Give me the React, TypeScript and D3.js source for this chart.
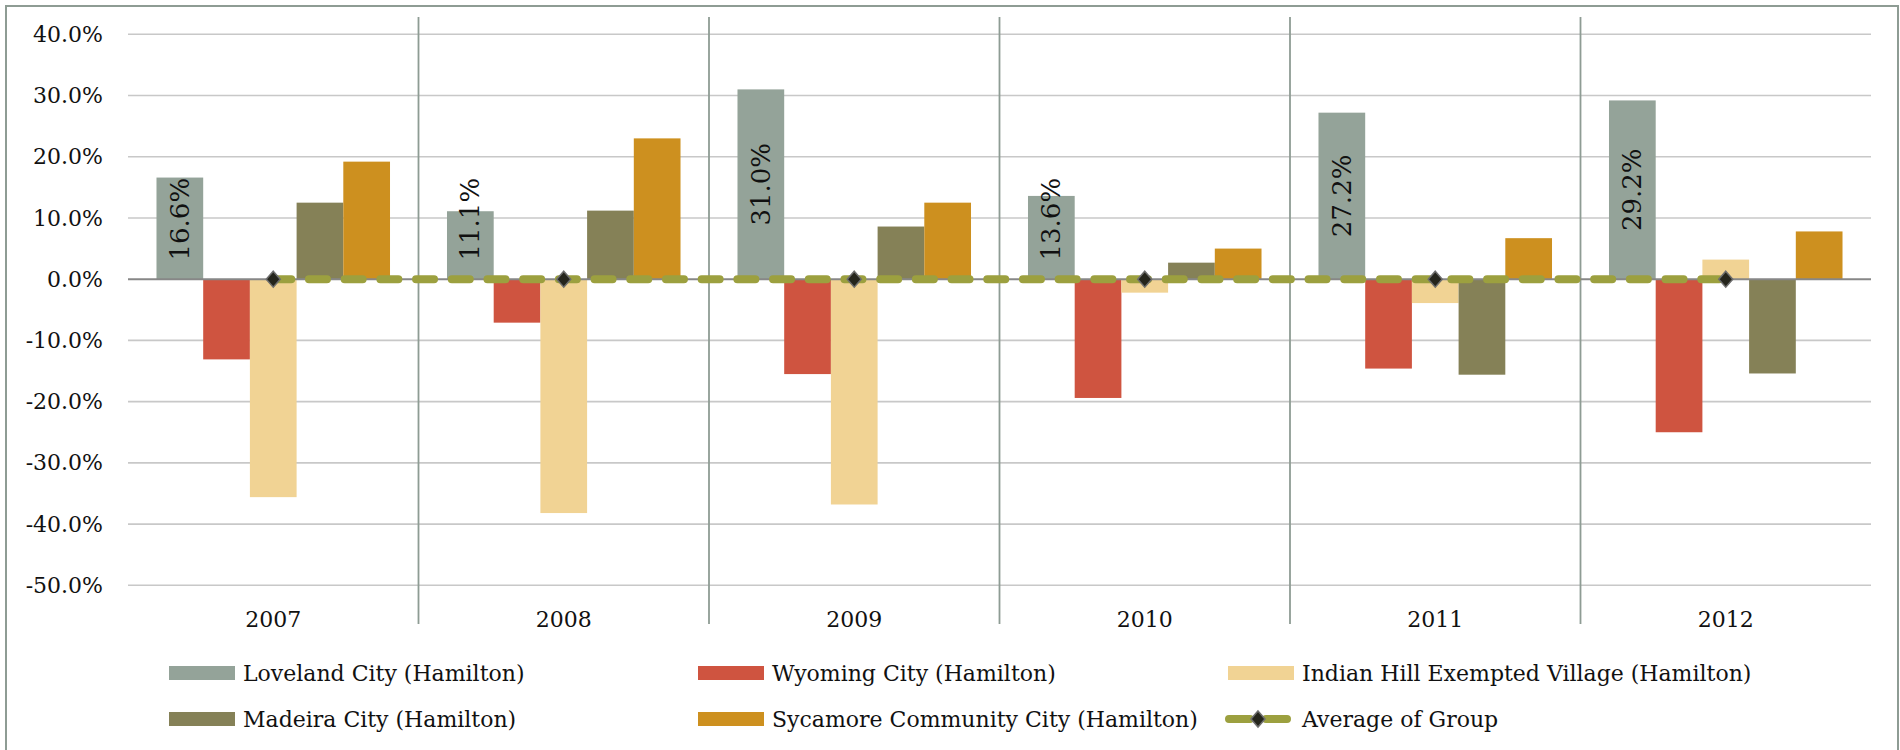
import { useRef, useEffect } from "react";
import { select, scaleBand, scaleLinear, axisLeft, format, line } from "d3";

const years = ["2007", "2008", "2009", "2010", "2011", "2012"];
const seriesNames = [
  "Loveland City (Hamilton)",
  "Wyoming City (Hamilton)",
  "Indian Hill Exempted Village (Hamilton)",
  "Madeira City (Hamilton)",
  "Sycamore Community City (Hamilton)",
];
const seriesColors = ["#94A399", "#CF5440", "#F1D394", "#858157", "#CD901F"];

const loveland = [0.166, 0.111, 0.31, 0.136, 0.272, 0.292];
const wyoming = [-0.131, -0.071, -0.155, -0.194, -0.146, -0.25];
const indianHill = [-0.356, -0.382, -0.368, -0.022, -0.039, 0.032];
const madeira = [0.125, 0.112, 0.086, 0.027, -0.156, -0.154];
const sycamore = [0.192, 0.23, 0.125, 0.05, 0.067, 0.078];
const groupAverage = [0, 0, 0, 0, 0, 0];
const averageName = "Average of Group";

const yTicks = [-0.5, -0.4, -0.3, -0.2, -0.1, 0, 0.1, 0.2, 0.3, 0.4];

const FONT = "'DejaVu Serif', serif";

export default function App() {
  const svgRef = useRef(null);

  useEffect(() => {
    const svg = select(svgRef.current);
    svg.selectAll("*").remove();

    const seriesValues = [loveland, wyoming, indianHill, madeira, sycamore];

    const x = scaleBand().domain(years).range([128, 1871]);
    const xInner = scaleBand()
      .domain(seriesNames)
      .range([0, x.bandwidth()])
      .paddingOuter(0.61);
    const y = scaleLinear().domain([-0.5, 0.4]).range([585.3, 34.3]);

    const pct = (d) => format(".1%")(d).replace("\u2212", "-");

    // chart frame
    svg
      .append("rect")
      .attr("x", 6)
      .attr("y", 6)
      .attr("width", 1892)
      .attr("height", 770)
      .attr("fill", "#fff")
      .attr("stroke", "#8E9C94")
      .attr("stroke-width", 2);

    // horizontal gridlines
    svg
      .append("g")
      .selectAll("line")
      .data(yTicks.filter((t) => t !== 0))
      .join("line")
      .attr("x1", 128)
      .attr("x2", 1871)
      .attr("y1", (d) => y(d))
      .attr("y2", (d) => y(d))
      .attr("stroke", "#C8C8C8")
      .attr("stroke-width", 1.6);

    // value axis labels
    const yAxis = axisLeft(y).tickValues(yTicks).tickSize(0).tickPadding(25).tickFormat(pct);
    const gy = svg.append("g").attr("transform", "translate(128,0)").call(yAxis);
    gy.select(".domain").remove();
    gy.selectAll("text")
      .attr("font-family", FONT)
      .attr("font-size", 22)
      .attr("fill", "#111");

    // category separators
    svg
      .append("g")
      .selectAll("line")
      .data(years.slice(1))
      .join("line")
      .attr("x1", (d) => x(d))
      .attr("x2", (d) => x(d))
      .attr("y1", 17)
      .attr("y2", 624)
      .attr("stroke", "#8E9C94")
      .attr("stroke-width", 1.8);

    // category labels
    svg
      .append("g")
      .selectAll("text")
      .data(years)
      .join("text")
      .attr("x", (d) => x(d) + x.bandwidth() / 2)
      .attr("y", 627)
      .attr("text-anchor", "middle")
      .attr("font-family", FONT)
      .attr("font-size", 22)
      .attr("fill", "#111")
      .text((d) => d);

    // bars
    seriesNames.forEach((name, si) => {
      svg
        .append("g")
        .selectAll("rect")
        .data(seriesValues[si])
        .join("rect")
        .attr("x", (_, i) => x(years[i]) + xInner(name))
        .attr("width", xInner.bandwidth())
        .attr("y", (v) => y(Math.max(0, v)))
        .attr("height", (v) => Math.abs(y(v) - y(0)))
        .attr("fill", seriesColors[si]);
    });

    // zero line
    svg
      .append("line")
      .attr("x1", 128)
      .attr("x2", 1871)
      .attr("y1", y(0))
      .attr("y2", y(0))
      .attr("stroke", "#878787")
      .attr("stroke-width", 2);

    // average line
    const avgLine = line()
      .x((_, i) => x(years[i]) + x.bandwidth() / 2)
      .y((v) => y(v));
    svg
      .append("path")
      .attr("d", avgLine(groupAverage))
      .attr("fill", "none")
      .attr("stroke", "#9CA03F")
      .attr("stroke-width", 8)
      .attr("stroke-linecap", "round")
      .attr("stroke-dasharray", "18 17.7");

    const diamond = (cx, cy) =>
      `M${cx},${cy - 8}L${cx + 7},${cy}L${cx},${cy + 8}L${cx - 7},${cy}Z`;

    svg
      .append("g")
      .selectAll("path")
      .data(groupAverage)
      .join("path")
      .attr("d", (v, i) => diamond(x(years[i]) + x.bandwidth() / 2, y(v)))
      .attr("fill", "#25251C")
      .attr("stroke", "#6E6E6E")
      .attr("stroke-width", 1.5);

    // data labels on Loveland bars
    svg
      .append("g")
      .selectAll("text")
      .data(loveland)
      .join("text")
      .attr("transform", (v, i) => {
        const cx = x(years[i]) + xInner(seriesNames[0]) + xInner.bandwidth() / 2;
        const cy = Math.min((y(v) + y(0)) / 2, y(0) - 60);
        return `translate(${cx},${cy}) rotate(-90)`;
      })
      .attr("text-anchor", "middle")
      .attr("dominant-baseline", "central")
      .attr("font-family", FONT)
      .attr("font-size", 26)
      .attr("fill", "#111")
      .text((v) => pct(v));

    // legend
    const legendCols = [169, 698, 1228];
    const legendRows = [673, 719];
    const legendItems = [
      { name: seriesNames[0], color: seriesColors[0], col: 0, row: 0 },
      { name: seriesNames[1], color: seriesColors[1], col: 1, row: 0 },
      { name: seriesNames[2], color: seriesColors[2], col: 2, row: 0 },
      { name: seriesNames[3], color: seriesColors[3], col: 0, row: 1 },
      { name: seriesNames[4], color: seriesColors[4], col: 1, row: 1 },
    ];
    const lg = svg.append("g");
    legendItems.forEach((it) => {
      const lx = legendCols[it.col];
      const ly = legendRows[it.row];
      lg.append("rect")
        .attr("x", lx)
        .attr("y", ly - 7)
        .attr("width", 66)
        .attr("height", 14)
        .attr("fill", it.color);
      lg.append("text")
        .attr("x", lx + 74)
        .attr("y", ly + 8)
        .attr("font-family", FONT)
        .attr("font-size", 22)
        .attr("fill", "#111")
        .text(it.name);
    });
    const ax = legendCols[2];
    const ay = legendRows[1];
    lg.append("line")
      .attr("x1", ax + 1)
      .attr("x2", ax + 59)
      .attr("y1", ay)
      .attr("y2", ay)
      .attr("stroke", "#9CA03F")
      .attr("stroke-width", 8)
      .attr("stroke-linecap", "round")
      .attr("stroke-dasharray", "21 16");
    lg.append("path")
      .attr("d", diamond(ax + 30, ay))
      .attr("fill", "#25251C")
      .attr("stroke", "#6E6E6E")
      .attr("stroke-width", 1.5);
    lg.append("text")
      .attr("x", ax + 74)
      .attr("y", ay + 8)
      .attr("font-family", FONT)
      .attr("font-size", 22)
      .attr("fill", "#111")
      .text(averageName);
  }, []);

  return (
    <svg
      ref={svgRef}
      width={1900}
      height={750}
      style={{ position: "absolute", left: 0, top: 0, background: "#fff" }}
    />
  );
}
